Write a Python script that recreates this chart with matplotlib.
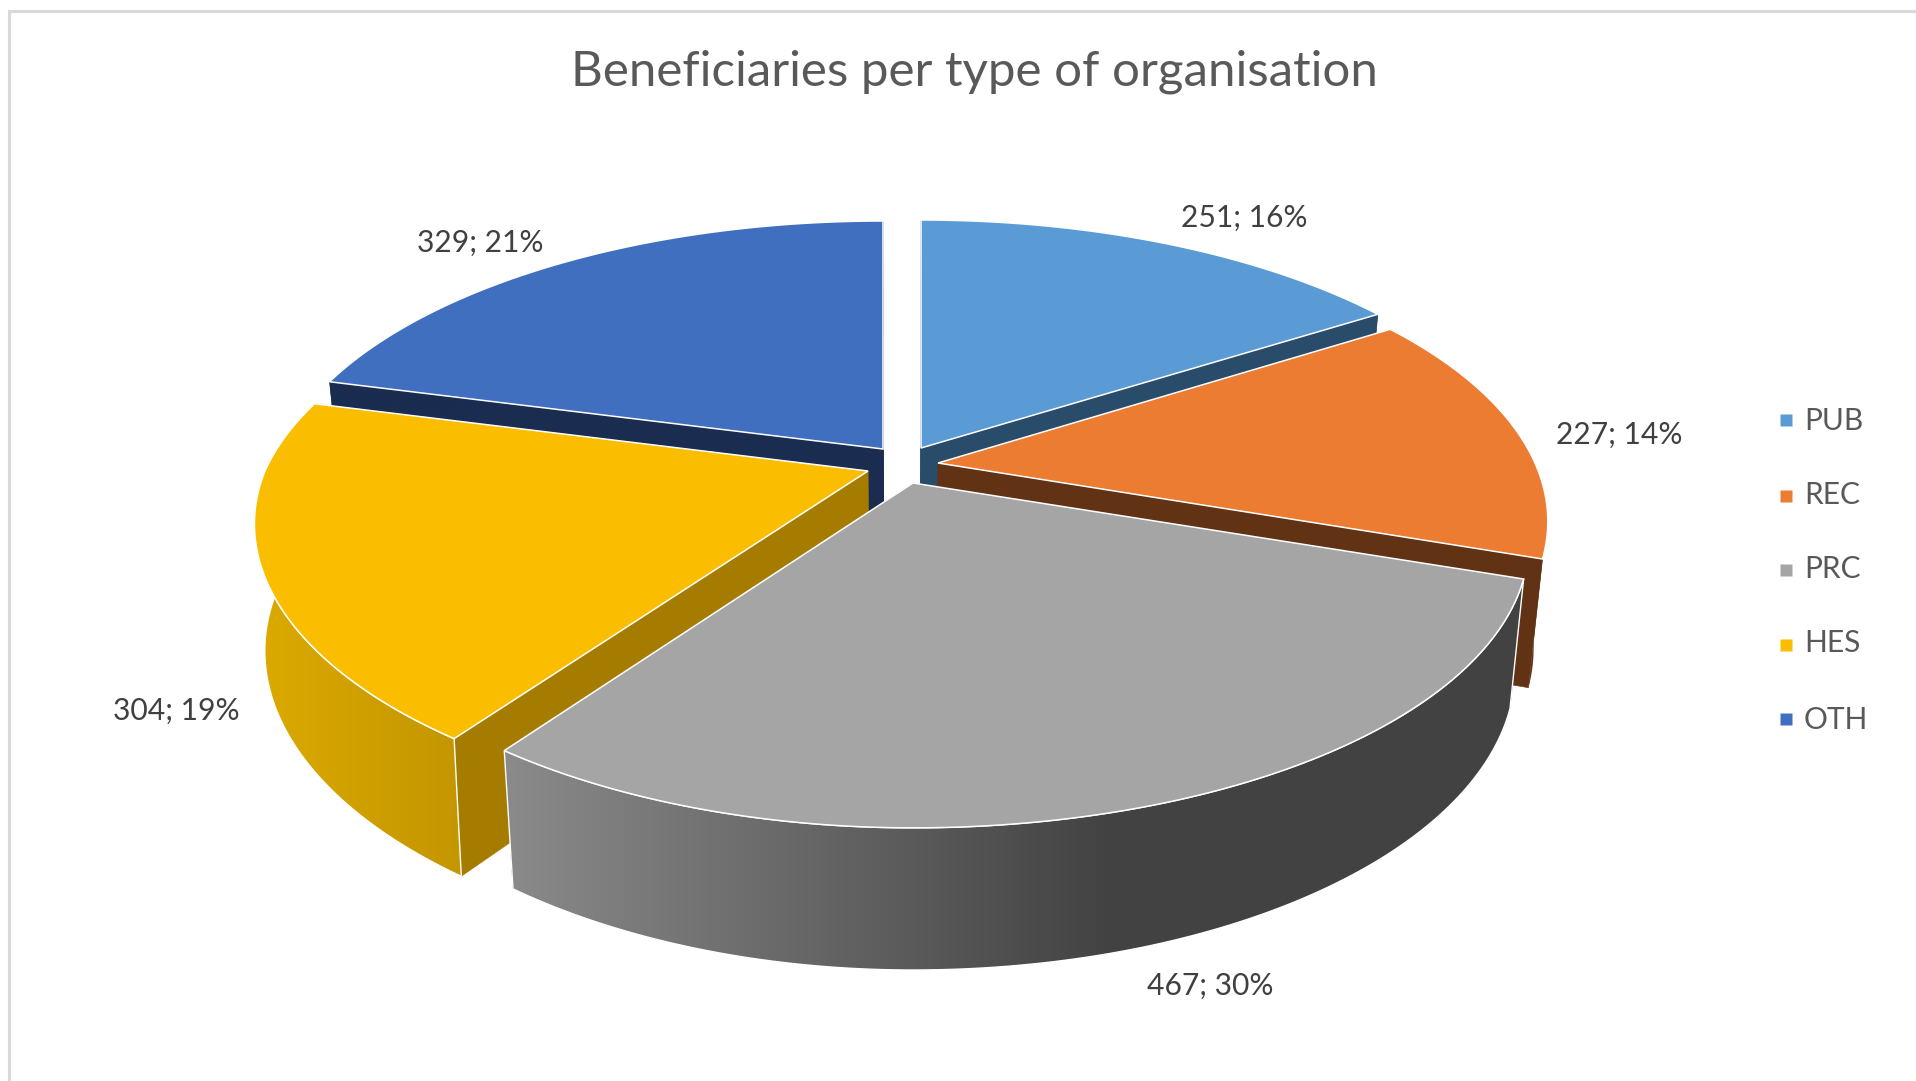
import numpy as np
import matplotlib
matplotlib.use('Agg')
import matplotlib.pyplot as plt
from matplotlib.patches import Polygon
from matplotlib.colors import LinearSegmentedColormap

# data
categories = ['PUB', 'REC', 'PRC', 'HES', 'OTH']
values = [251, 227, 467, 304, 329]
title = 'Beneficiaries per type of organisation'

# styles
top_colors = ['#5b9bd5', '#ec7c31', '#a5a5a5', '#fbbd00', '#416fbf']
face_colors = ['#2a4c6b', '#613214', '#404040', '#a67c00', '#1a2c50']
wall_stops = [
    [(0, '#2a4c6b'), (1, '#2a4c6b')],
    [(0, '#613214'), (1, '#613214')],
    [(0, '#8a8a8a'), (0.6, '#424242'), (1, '#424242')],
    [(0, '#dcaa00'), (1, '#c49600')],
    [(0, '#1a2c50'), (1, '#1a2c50')],
]
draw_order = [0, 4, 1, 3, 2]

# layout, in pixels of the full picture
W, H = 1916, 1081
cx, cy = 903, 465
radius_x, radius_y, persp = 603, 274.5, 0.204
slice_shift = [(18, -17), (35, -2), (10, 18), (-35, 6), (-20, -16)]
slice_xscale = [1.0, 0.99, 1.0, 1.0, 1.0]
left_pull = [0, 0, 0.035, 0.02, 0]
bottom_scale_x = [0.978, 0.978, 0.978, 0.984, 0.978]
bottom_scale_y, bottom_drop = 1.05, 124
label_pos = [(1244, 218), (1619, 435), (1210, 986), (176, 711), (480, 243)]
legend_y = [420, 496, 570, 645, 719]
legend_text_y = [421, 495, 569, 643, 720]

plt.rcParams['font.family'] = ['Lato', 'DejaVu Sans']
fig = plt.figure(figsize=(W / 100, H / 100), dpi=100)
ax = fig.add_axes([0, 0, 1, 1])
ax.axis('off')


def rim(i, a0, a1, n=120):
    # points on the perspective circle, angles clockwise from 12 o'clock
    t = np.radians(np.linspace(a0, a1, n))
    u, v = np.sin(t), -np.cos(t)
    s = 1 / (1 - persp * v)
    x = radius_x * u * s * slice_xscale[i]
    x = np.where(u < 0, x * (1 - left_pull[i] * np.clip(v, 0, 1)), x)
    return np.column_stack((x, radius_y * v * s))


def drop(i, pts):
    # same points moved to the bottom of the pie
    pts = np.asarray(pts, dtype=float)
    out = pts.copy()
    out[:, 0] = cx + (pts[:, 0] - cx) * bottom_scale_x[i]
    out[:, 1] = cy + (pts[:, 1] - cy) * bottom_scale_y + bottom_drop
    return out


def gradient_wall(pts, stops, z):
    poly = Polygon(pts, closed=True, fc='none', ec='none', zorder=z)
    ax.add_patch(poly)
    x0, x1 = pts[:, 0].min(), pts[:, 0].max()
    y0, y1 = pts[:, 1].min(), pts[:, 1].max()
    cmap = LinearSegmentedColormap.from_list('w', stops)
    im = ax.imshow(np.linspace(0, 1, 256)[None, :], cmap=cmap, aspect='auto',
                   extent=(x0, x1, y1, y0), zorder=z, interpolation='bilinear')
    im.set_clip_path(poly)


total = sum(values)
angles = np.concatenate(([0], np.cumsum(values) / total * 360))

z = 2
for i in draw_order:
    apex = np.array([cx + slice_shift[i][0], cy + slice_shift[i][1]], dtype=float)
    arc = rim(i, angles[i], angles[i + 1]) + apex

    # radial faces, the nearer one last
    faces = [np.vstack((apex, arc[0])), np.vstack((apex, arc[-1]))]
    faces.sort(key=lambda f: f[:, 1].mean())
    for f in faces:
        quad = np.vstack((f, drop(i, f)[::-1]))
        ax.add_patch(Polygon(quad, closed=True, fc=face_colors[i], ec=face_colors[i],
                             lw=0.4, zorder=z))
        z += 1

    # outer wall
    wall = np.vstack((arc, drop(i, arc)[::-1]))
    gradient_wall(wall, wall_stops[i], z)
    z += 1
    if i in (2, 3):
        ax.add_patch(Polygon(wall, closed=True, fc='none', ec='white', lw=1.0, zorder=z))
        z += 1

    # top
    top = np.vstack((apex, arc))
    ax.add_patch(Polygon(top, closed=True, fc=top_colors[i], ec='white', lw=1.1,
                         joinstyle='miter', zorder=z))
    z += 1

# frame of the chart area
ax.plot([9, 9, W], [H, 10.5, 10.5], color='#d9d9d9', lw=2.2, zorder=1, solid_joinstyle='miter')

ax.text(974, 72, title, color='#595959', fontsize=35.5, ha='center', va='center', zorder=50)

for i, v in enumerate(values):
    txt = '%d; %d%%' % (v, round(100 * v / total))
    ax.text(label_pos[i][0], label_pos[i][1], txt, color='#404040', fontsize=21.6,
            ha='center', va='center', zorder=50)

for i, name in enumerate(categories):
    ax.plot([1786.5], [legend_y[i]], marker='s', ms=8, mfc=top_colors[i], mec='none',
            ls='none', zorder=50)
    ax.text(1804, legend_text_y[i], name, color='#595959', fontsize=21.5,
            ha='left', va='center', zorder=50)

ax.set_xlim(0, W)
ax.set_ylim(H, 0)
fig.savefig('out.png', dpi=100, facecolor='white')
